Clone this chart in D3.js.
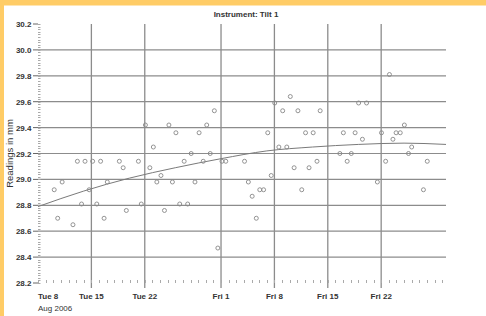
<!DOCTYPE html>
<html>
<head>
<meta charset="utf-8">
<script src="https://cdn.jsdelivr.net/npm/d3@7"></script>
<style>
  html, body { margin: 0; padding: 0; background: #fff; }
  svg { display: block; font-family: "Liberation Sans", Arial, sans-serif; }
</style>
</head>
<body>
<svg id="chart" width="486" height="316"></svg>
<script>
// readings, one per ~12h (date "YYYY-MM-DD HH")
var reading_times = [
  "2006-08-10 03","2006-08-10 14","2006-08-11 04","2006-08-12 14","2006-08-13 04","2006-08-13 17",
  "2006-08-14 04","2006-08-14 17","2006-08-15 04","2006-08-15 17","2006-08-16 05","2006-08-16 16",
  "2006-08-17 02","2006-08-18 16","2006-08-19 04","2006-08-19 14","2006-08-21 04","2006-08-21 13",
  "2006-08-22 02","2006-08-22 16","2006-08-23 03","2006-08-23 14","2006-08-24 03","2006-08-24 14",
  "2006-08-25 04","2006-08-25 15","2006-08-26 02","2006-08-26 14","2006-08-27 04","2006-08-27 15",
  "2006-08-28 02","2006-08-28 14","2006-08-29 03","2006-08-29 16","2006-08-30 03","2006-08-30 14",
  "2006-08-31 03","2006-08-31 14","2006-09-01 03","2006-09-01 15","2006-09-04 02","2006-09-04 14",
  "2006-09-05 02","2006-09-05 15","2006-09-06 02","2006-09-06 14","2006-09-07 03","2006-09-07 14",
  "2006-09-08 01","2006-09-08 14","2006-09-09 02","2006-09-09 15","2006-09-10 02","2006-09-10 14",
  "2006-09-11 02","2006-09-11 14","2006-09-12 02","2006-09-12 13","2006-09-13 02","2006-09-13 14",
  "2006-09-14 00","2006-09-16 14","2006-09-17 01","2006-09-17 13","2006-09-18 02","2006-09-18 14",
  "2006-09-19 01","2006-09-19 13","2006-09-20 02","2006-09-21 12","2006-09-22 01","2006-09-22 14",
  "2006-09-23 02","2006-09-23 13","2006-09-23 23","2006-09-24 12","2006-09-25 01","2006-09-25 14",
  "2006-09-26 00","2006-09-27 13","2006-09-28 01"
];
var reading_values = [
  28.92, 28.70, 28.98, 28.65, 29.14, 28.81,
  29.14, 28.92, 29.14, 28.81, 29.14, 28.70,
  28.98, 29.14, 29.09, 28.76, 29.14, 28.81,
  29.42, 29.09, 29.25, 28.98, 29.03, 28.76,
  29.42, 28.98, 29.36, 28.81, 29.14, 28.81,
  29.20, 28.98, 29.36, 29.14, 29.42, 29.20,
  29.53, 28.47, 29.14, 29.14, 29.14, 28.98,
  28.87, 28.70, 28.92, 28.92, 29.36, 29.03,
  29.59, 29.25, 29.53, 29.25, 29.64, 29.09,
  29.53, 28.92, 29.36, 29.09, 29.36, 29.14,
  29.53, 29.20, 29.36, 29.14, 29.20, 29.36,
  29.59, 29.31, 29.59, 28.98, 29.36, 29.14,
  29.81, 29.31, 29.36, 29.36, 29.42, 29.20,
  29.25, 28.92, 29.14
];

// trend curve
var trend_times  = ["2006-08-08 00","2006-08-14 00","2006-08-20 00","2006-08-26 00","2006-09-01 00",
                    "2006-09-07 00","2006-09-13 00","2006-09-19 00","2006-09-25 00","2006-09-30 12"];
var trend_values = [28.79, 28.91, 29.01, 29.09, 29.16, 29.22, 29.25, 29.27, 29.28, 29.27];

var x_tick_dates  = ["2006-08-08 00","2006-08-15 00","2006-08-22 00","2006-09-01 00","2006-09-08 00","2006-09-15 00","2006-09-22 00"];
var x_tick_labels = ["Tue 8","Tue 15","Tue 22","Fri 1","Fri 8","Fri 15","Fri 22"];
var y_ticks = [28.2, 28.4, 28.6, 28.8, 29.0, 29.2, 29.4, 29.6, 29.8, 30.0, 30.2];

var title_text = "Instrument: Tilt 1";
var y_title = "Readings in mm";
var sub_label = "Aug 2006";

var parse = d3.timeParse("%Y-%m-%d %H");
var points = reading_times.map(function(t, i) { return { date: parse(t), v: reading_values[i] }; });
var trend = trend_times.map(function(t, i) { return { date: parse(t), v: trend_values[i] }; });

const margin = {top: 24, right: 40, bottom: 33, left: 38},
  W = 486, H = 316;

const svg = d3.select("#chart");

/** orange frame on top and left */
svg.append("rect").attr("x", 0).attr("y", 0).attr("width", W).attr("height", 5.5).attr("fill", "#ffcc66");
svg.append("rect").attr("x", 0).attr("y", 0).attr("width", 4).attr("height", H).attr("fill", "#ffcc66");

const x = d3.scaleTime()
  .domain([parse("2006-08-08 00"), parse("2006-09-30 12")])
  .range([margin.left, W - margin.right]);
const y = d3.scaleLinear()
  .domain([28.2, 30.2])
  .range([H - margin.bottom, margin.top]);

var grid_col = "#8c8c8c";
var y0 = y(28.2), y1 = y(30.2);

/** horizontal grid + major ticks */
svg.selectAll(".hgrid").data(y_ticks.filter(d => d > 28.2 && d < 30.2)).join("line")
  .attr("class", "hgrid")
  .attr("x1", margin.left).attr("x2", W - margin.right)
  .attr("y1", d => y(d)).attr("y2", d => y(d))
  .attr("stroke", grid_col).attr("stroke-width", 1.2);

svg.selectAll(".ytick").data(y_ticks).join("line")
  .attr("class", "ytick")
  .attr("x1", margin.left - 5).attr("x2", margin.left)
  .attr("y1", d => y(d)).attr("y2", d => y(d))
  .attr("stroke", "#666").attr("stroke-width", 1);

// minor y ticks every 0.02
var y_minor = d3.range(0, 101).map(i => 28.2 + i * 0.02);
svg.selectAll(".yminor").data(y_minor).join("line")
  .attr("class", "yminor")
  .attr("x1", margin.left).attr("x2", margin.left + 2.5)
  .attr("y1", d => Math.round(y(d)) + 0.5).attr("y2", d => Math.round(y(d)) + 0.5)
  .attr("stroke", "#aaa").attr("stroke-width", 1);

svg.selectAll(".ylabel").data(y_ticks).join("text")
  .attr("class", "ylabel")
  .attr("x", margin.left - 6.5).attr("y", d => y(d) + 3)
  .attr("text-anchor", "end")
  .attr("font-size", "8px").attr("font-weight", "bold").attr("fill", "#333")
  .text(d => d3.format(".1f")(d));

/** vertical grid (extends as major tick below the plot) */
var x_ticks = x_tick_dates.map(parse);
svg.selectAll(".vgrid").data(x_ticks.slice(1)).join("line")
  .attr("class", "vgrid")
  .attr("x1", d => x(d)).attr("x2", d => x(d))
  .attr("y1", y1).attr("y2", y0 + 5)
  .attr("stroke", grid_col).attr("stroke-width", 1.3);

// minor x ticks, one per day
var days = d3.timeDay.range(x.domain()[0], x.domain()[1]);
svg.selectAll(".xminor").data(days).join("line")
  .attr("class", "xminor")
  .attr("x1", d => Math.round(x(d)) + 0.5).attr("x2", d => Math.round(x(d)) + 0.5)
  .attr("y1", y0 - 3).attr("y2", y0)
  .attr("stroke", "#aaa").attr("stroke-width", 1);

svg.selectAll(".xlabel").data(x_ticks).join("text")
  .attr("class", "xlabel")
  .attr("x", d => x(d)).attr("y", y0 + 15.5)
  .attr("text-anchor", (d, i) => i === 0 ? "start" : "middle")
  .attr("font-size", "8px").attr("font-weight", "bold").attr("fill", "#333")
  .text((d, i) => x_tick_labels[i]);

svg.append("text")
  .attr("x", margin.left).attr("y", y0 + 27.5)
  .attr("font-size", "8px").attr("fill", "#333")
  .text(sub_label);

/** trend line */
svg.append("path")
  .datum(trend)
  .attr("fill", "none")
  .attr("stroke", "#7a7a7a")
  .attr("stroke-width", 1)
  .attr("d", d3.line().curve(d3.curveMonotoneX).x(d => x(d.date)).y(d => y(d.v)));

/** readings */
svg.selectAll(".dot").data(points).join("circle")
  .attr("class", "dot")
  .attr("cx", d => x(d.date)).attr("cy", d => y(d.v))
  .attr("r", 2)
  .attr("fill", "none")
  .attr("stroke", "#888")
  .attr("stroke-width", 0.9);

/** titles */
svg.append("text")
  .attr("x", 246).attr("y", 16.5)
  .attr("text-anchor", "middle")
  .attr("font-size", "8px").attr("font-weight", "bold").attr("fill", "#333")
  .text(title_text);

svg.append("text")
  .attr("transform", `translate(12.5,${(y0 + y1) / 2}) rotate(-90)`)
  .attr("text-anchor", "middle")
  .attr("font-size", "9.5px").attr("fill", "#333")
  .text(y_title);
</script>
</body>
</html>
